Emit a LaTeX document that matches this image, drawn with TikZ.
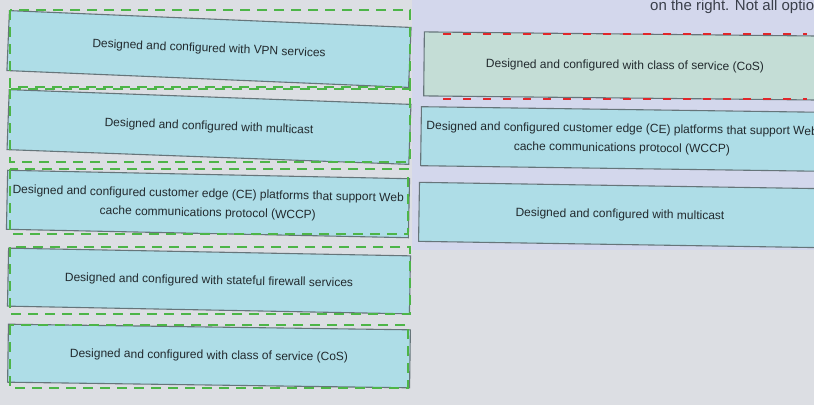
\documentclass[tikz,border=0pt]{standalone}
\usepackage{fontspec}
\setmainfont{Liberation Sans}
\definecolor{bgleft}{HTML}{DCDEE3}
\definecolor{bgright}{HTML}{D3D7EC}
\definecolor{cardfill}{HTML}{AEDDE7}
\definecolor{cardfillB}{HTML}{C4DDD6}
\definecolor{cardline}{HTML}{66757A}
\definecolor{cardtext}{HTML}{222A2E}
\definecolor{zonegreen}{HTML}{4DB548}
\definecolor{slotred}{HTML}{E0262A}
\definecolor{hdrtext}{HTML}{3A3F4A}
\begin{document}
\begin{tikzpicture}[x=1pt,y=-1pt,
  card/.style={draw=cardline, line width=1.1pt, fill=cardfill, minimum width=402pt,
    minimum height=60pt, inner sep=0pt, font=\fontsize{12}{19}\selectfont,
    text=cardtext, align=center},
  zone/.style={draw=zonegreen, line width=1.9pt, dash pattern=on 10pt off 7pt},
  slot/.style={draw=slotred, line width=1.4pt, dash pattern=on 8pt off 12pt}]
\useasboundingbox (0,0) rectangle (814,405);
% background
\fill[bgleft] (0,0) rectangle (814,405);
\fill[bgright] (412,0) rectangle (814,250);
% header text (cut off at the edge, as in the reference)
\node[anchor=base west, font=\fontsize{15}{18}\selectfont, text=hdrtext, inner sep=0pt] (hdr) at (650,10) {on the right. Not all options};
% left column cards
\node[card, rotate=-2.4] (b1) at (209,49) {Designed and configured with VPN services};
\node[card, rotate=-2.1] (b2) at (209,127) {Designed and configured with multicast};
\node[card, rotate=-1.2, minimum height=59pt] (b3) at (208,204) {Designed and configured customer edge (CE) platforms that support Web\\cache communications protocol (WCCP)};
\node[card, rotate=-1.1, minimum height=58pt] (b4) at (209,281) {Designed and configured with stateful firewall services};
\node[card, rotate=-0.8, minimum height=58pt] (b5) at (209,356) {Designed and configured with class of service (CoS)};
% right column cards
\node[card, rotate=-0.6, fill=cardfillB, minimum height=64pt] (r1) at (625,66) {Designed and configured with class of service (CoS)};
\node[card, rotate=-0.8, minimum height=59pt] (r2) at (622,139) {Designed and configured customer edge (CE) platforms that support Web\\cache communications protocol (WCCP)};
\node[card, rotate=-0.9, minimum height=59pt] (r3) at (620,215) {Designed and configured with multicast};
% drop zones (green dashed)
\draw[zone] (10,10) rectangle (410,87);
\draw[zone] (10,89) rectangle (410,162);
\draw[zone] (10,169) rectangle (408,234);
\draw[zone] (10,247) rectangle (410,314);
\draw[zone] (10,325) rectangle (408,388);
% red dashed slot marks
\draw[slot] (443,34) -- (807,34);
\draw[slot] (443,99) -- (807,99);
\end{tikzpicture}
\end{document}
